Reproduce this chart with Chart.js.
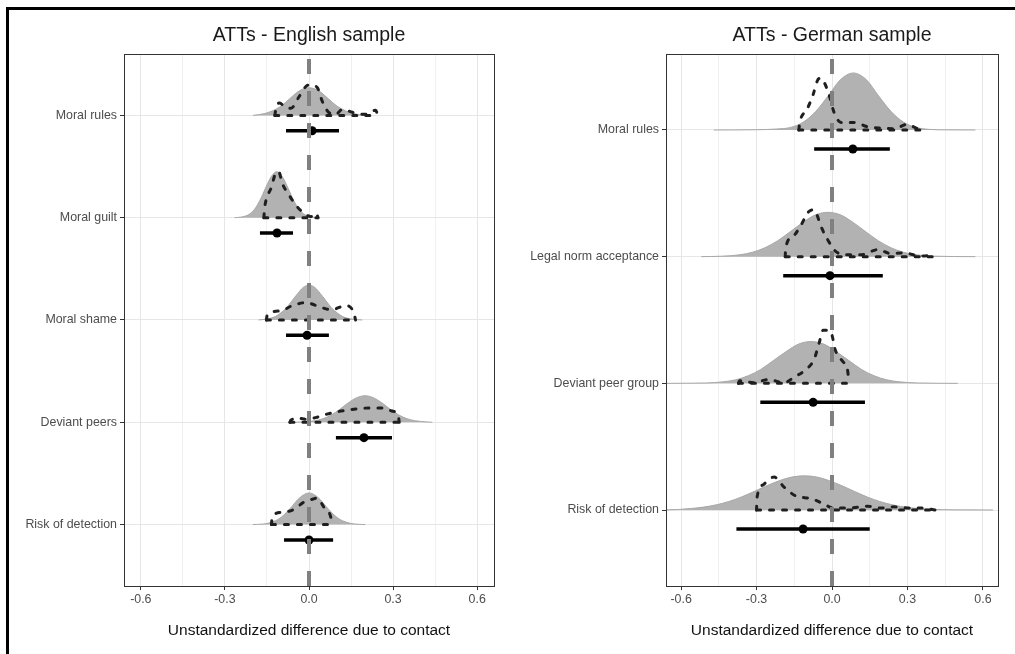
<!DOCTYPE html>
<html>
<head>
<meta charset="utf-8">
<script src="https://cdn.jsdelivr.net/npm/chart.js@4.4.1/dist/chart.umd.min.js"></script>
<style>
  body { margin: 0; width: 1015px; height: 654px; overflow: hidden; background: #fff; position: relative; }
  #frame { position: absolute; left: 6px; top: 7px; width: 1100px; height: 1100px; border: 3px solid #000; }
  canvas { position: absolute; top: 0; }
  #en { left: 0; }
  #de { left: 505px; }
</style>
</head>
<body>
<div id="frame"></div>
<canvas id="en" width="505" height="654"></canvas>
<canvas id="de" width="510" height="654"></canvas>
<script>
// x axis (shared)
const xTicks = [-0.6, -0.45, -0.3, -0.15, 0, 0.15, 0.3, 0.45, 0.6];
const xTickLabels = ['-0.6', '', '-0.3', '', '0.0', '', '0.3', '', '0.6'];

// English sample
const enCategories = ['Moral rules', 'Moral guilt', 'Moral shame', 'Deviant peers', 'Risk of detection'];
const enEstimate = [0.011, -0.114, -0.007, 0.196, 0.0];
const enLower = [-0.082, -0.175, -0.082, 0.096, -0.089];
const enUpper = [0.107, -0.057, 0.071, 0.296, 0.086];

// [x, height] pairs, height in units of row spacing
const enRulesGray = [[-0.2,0],[-0.16,0.017],[-0.13,0.045],[-0.1,0.09],[-0.07,0.16],[-0.04,0.23],[-0.02,0.26],[0,0.27],[0.02,0.26],[0.04,0.23],[0.07,0.16],[0.1,0.09],[0.13,0.045],[0.16,0.017],[0.2,0]];
const enGuiltGray = [[-0.265,0],[-0.245,0.005],[-0.215,0.03],[-0.195,0.08],[-0.175,0.17],[-0.155,0.29],[-0.135,0.4],[-0.115,0.45],[-0.095,0.4],[-0.075,0.29],[-0.055,0.17],[-0.035,0.08],[-0.015,0.03],[0.015,0.005],[0.035,0]];
const enShameGray = [[-0.18,0],[-0.15,0.01],[-0.12,0.034],[-0.1,0.07],[-0.08,0.12],[-0.06,0.19],[-0.04,0.26],[-0.02,0.32],[0,0.34],[0.02,0.32],[0.04,0.26],[0.06,0.19],[0.08,0.12],[0.1,0.07],[0.12,0.034],[0.15,0.01],[0.19,0]];
const enPeersGray = [[-0.05,0],[-0.02,0.004],[0.02,0.015],[0.05,0.035],[0.08,0.072],[0.11,0.127],[0.14,0.19],[0.17,0.24],[0.2,0.26],[0.23,0.24],[0.26,0.19],[0.29,0.127],[0.32,0.072],[0.35,0.035],[0.38,0.015],[0.42,0.004],[0.44,0]];
const enRiskGray = [[-0.2,0],[-0.15,0.011],[-0.12,0.037],[-0.1,0.07],[-0.08,0.12],[-0.06,0.18],[-0.04,0.245],[-0.02,0.29],[0,0.31],[0.02,0.29],[0.04,0.245],[0.06,0.18],[0.08,0.12],[0.1,0.07],[0.12,0.037],[0.15,0.011],[0.2,0]];

const enRulesDash = [[-0.122,0],[-0.115,0.1],[-0.105,0.12],[-0.085,0.08],[-0.064,0.07],[-0.036,0.18],[-0.012,0.28],[0.005,0.3],[0.03,0.27],[0.047,0.14],[0.07,0.03],[0.095,0.01],[0.12,0.06],[0.155,0.03],[0.2,0.01],[0.238,0.05],[0.245,0]];
const enGuiltDash = [[-0.161,0],[-0.158,0.1],[-0.15,0.2],[-0.135,0.29],[-0.118,0.44],[-0.108,0.45],[-0.096,0.34],[-0.071,0.22],[-0.043,0.11],[-0.011,0.03],[0.007,0.01],[0.022,0.045],[0.03,0.02],[0.032,0]];
const enShameDash = [[-0.152,0],[-0.149,0.05],[-0.1,0.09],[-0.06,0.14],[-0.01,0.17],[0.036,0.13],[0.08,0.1],[0.13,0.14],[0.16,0.07],[0.166,0]];
const enPeersDash = [[-0.068,0],[-0.065,0.02],[-0.036,0.04],[-0.011,0.03],[0.029,0.05],[0.064,0.08],[0.114,0.11],[0.167,0.13],[0.214,0.14],[0.26,0.14],[0.296,0.11],[0.318,0.07],[0.322,0]];
const enRiskDash = [[-0.134,0],[-0.131,0.08],[-0.096,0.12],[-0.053,0.15],[-0.018,0.22],[0.015,0.25],[0.029,0.26],[0.053,0.17],[0.078,0.07],[0.082,0]];

// German sample
const deCategories = ['Moral rules', 'Legal norm acceptance', 'Deviant peer group', 'Risk of detection'];
const deEstimate = [0.083, -0.008, -0.075, -0.115];
const deLower = [-0.071, -0.194, -0.285, -0.38];
const deUpper = [0.23, 0.202, 0.131, 0.15];

const deRulesGray = [[-0.47,0],[-0.3,0.002],[-0.22,0.008],[-0.165,0.02],[-0.115,0.061],[-0.065,0.146],[-0.015,0.27],[0.035,0.4],[0.085,0.45],[0.135,0.4],[0.185,0.27],[0.235,0.146],[0.285,0.061],[0.335,0.02],[0.385,0.005],[0.45,0.001],[0.57,0]];
const deLegalGray = [[-0.52,0],[-0.436,0.004],[-0.366,0.015],[-0.316,0.035],[-0.266,0.071],[-0.216,0.126],[-0.166,0.197],[-0.116,0.27],[-0.066,0.33],[-0.016,0.35],[0.034,0.33],[0.084,0.27],[0.134,0.197],[0.184,0.126],[0.234,0.071],[0.284,0.035],[0.334,0.015],[0.404,0.004],[0.57,0]];
const deDevGray = [[-0.66,0],[-0.5,0.003],[-0.433,0.012],[-0.383,0.028],[-0.333,0.06],[-0.283,0.11],[-0.233,0.18],[-0.183,0.25],[-0.133,0.31],[-0.083,0.33],[-0.033,0.31],[0.017,0.25],[0.067,0.18],[0.117,0.11],[0.167,0.06],[0.217,0.028],[0.267,0.012],[0.34,0.003],[0.5,0]];
const deRiskGray = [[-0.66,0.001],[-0.61,0.004],[-0.56,0.012],[-0.51,0.023],[-0.46,0.041],[-0.41,0.067],[-0.36,0.103],[-0.31,0.146],[-0.26,0.191],[-0.21,0.231],[-0.16,0.26],[-0.11,0.27],[-0.06,0.26],[-0.01,0.231],[0.04,0.191],[0.09,0.146],[0.14,0.103],[0.19,0.067],[0.24,0.041],[0.29,0.023],[0.34,0.012],[0.39,0.006],[0.49,0.001],[0.64,0]];

const deRulesDash = [[-0.132,0],[-0.128,0.06],[-0.1,0.16],[-0.075,0.28],[-0.058,0.39],[-0.045,0.41],[-0.032,0.38],[-0.012,0.28],[0.008,0.14],[0.036,0.06],[0.087,0.06],[0.142,0.025],[0.194,0.015],[0.246,0.01],[0.3,0.045],[0.325,0.025],[0.35,0]];
const deLegalDash = [[-0.186,0],[-0.184,0.07],[-0.155,0.16],[-0.123,0.25],[-0.095,0.35],[-0.075,0.37],[-0.06,0.33],[-0.044,0.24],[-0.016,0.13],[0.016,0.04],[0.063,0.015],[0.115,0.015],[0.182,0.055],[0.234,0.025],[0.285,0.03],[0.352,0.005],[0.404,0.01],[0.41,0]];
const deDevDash = [[-0.372,0],[-0.368,0.02],[-0.31,0.005],[-0.254,0.03],[-0.19,0.005],[-0.15,0.05],[-0.103,0.11],[-0.071,0.19],[-0.051,0.32],[-0.035,0.42],[-0.015,0.42],[0,0.38],[0.012,0.27],[0.044,0.17],[0.063,0.09],[0.066,0]];
const deRiskDash = [[-0.3,0],[-0.298,0.1],[-0.273,0.2],[-0.245,0.25],[-0.23,0.26],[-0.19,0.18],[-0.143,0.11],[-0.083,0.09],[-0.036,0.05],[0.008,0.015],[0.063,0.015],[0.142,0.03],[0.194,0.015],[0.246,0.025],[0.313,0.015],[0.364,0.015],[0.41,0]];

const FONT = "'Liberation Sans', Arial, Helvetica, sans-serif";
Chart.defaults.font.family = FONT;
const barOffset = 0.15;

// draws the panel box on all four sides
const panelBorder = {
  id: 'panelBorder',
  afterDraw(chart) {
    const a = chart.chartArea, ctx = chart.ctx;
    ctx.save();
    ctx.strokeStyle = '#333';
    ctx.lineWidth = 1;
    ctx.strokeRect(Math.round(a.left) + 0.5, Math.round(a.top) + 0.5, Math.round(a.width), Math.round(a.height));
    ctx.restore();
  }
};

function ridgePanel(id, title, categories, est, lo, hi, grays, dashes, yMin, yMax, yAxisWidth, rightPad) {
  const n = categories.length;
  const base = i => n - i;
  const dashStyle = { borderColor: '#1f1f1f', borderWidth: 3, borderDash: [4, 9], borderCapStyle: 'round', pointRadius: 0, fill: false };
  const ds = [];
  ds.push({ type: 'line', data: [{x: 0, y: yMin}, {x: 0, y: yMax}], borderColor: '#808080', borderWidth: 4, borderDash: [15, 17], pointRadius: 0, fill: false, order: 0 });
  ds.push({ type: 'scatter', data: est.map((v, i) => ({x: v, y: base(i) - barOffset})), pointRadius: 4.5, backgroundColor: '#000', borderWidth: 0, order: 1 });
  categories.forEach((c, i) => {
    ds.push({ type: 'line', data: [{x: lo[i], y: base(i) - barOffset}, {x: hi[i], y: base(i) - barOffset}], borderColor: '#000', borderWidth: 3.5, pointRadius: 0, fill: false, order: 2 });
    const d = dashes[i];
    ds.push(Object.assign({ type: 'line', data: d.map(p => ({x: p[0], y: base(i) + p[1]})), cubicInterpolationMode: 'monotone', order: 3 }, dashStyle));
    ds.push(Object.assign({ type: 'line', data: [{x: d[0][0], y: base(i)}, {x: d[d.length - 1][0], y: base(i)}], order: 3 }, dashStyle));
    ds.push({ type: 'line', data: grays[i].map(p => ({x: p[0], y: base(i) + p[1]})), cubicInterpolationMode: 'monotone', borderColor: '#a8a8a8', borderWidth: 1, backgroundColor: '#b2b2b2', fill: {value: base(i)}, pointRadius: 0, order: 4 });
  });

  new Chart(document.getElementById(id), {
    type: 'line',
    data: { datasets: ds },
    plugins: [panelBorder],
    options: {
      responsive: false,
      animation: false,
      events: [],
      layout: { padding: { left: 0, right: rightPad, top: 0, bottom: 0 } },
      plugins: {
        legend: { display: false },
        tooltip: { enabled: false },
        title: { display: true, fullSize: false, text: title, color: '#1a1a1a', font: { size: 19.5, weight: 'normal' }, padding: { top: 24, bottom: 6.6 } }
      },
      scales: {
        x: {
          type: 'linear', min: -0.66, max: 0.66,
          afterBuildTicks: s => { s.ticks = xTicks.map(v => ({value: v})); },
          afterFit: s => { s.height = 68; },
          ticks: { callback: (v, i) => xTickLabels[i], color: '#4d4d4d', font: { size: 12.4 }, padding: 2, maxRotation: 0, autoSkip: false },
          grid: {
            color: c => xTickLabels[c.index] ? '#e6e6e6' : '#f0f0f0',
            lineWidth: 1, tickLength: 4, tickWidth: 1,
            tickColor: c => xTickLabels[c.index] ? '#333' : 'rgba(0,0,0,0)'
          },
          border: { display: false },
          title: { display: true, text: 'Unstandardized difference due to contact', color: '#111', font: { size: 15.5 }, padding: { top: 4, bottom: 14 } }
        },
        y: {
          type: 'linear', min: yMin, max: yMax,
          afterBuildTicks: s => { s.ticks = categories.map((c, i) => ({value: n - i})); },
          afterFit: s => { s.width = yAxisWidth; },
          ticks: { callback: v => categories[n - Math.round(v)], color: '#4d4d4d', font: { size: 12.4 }, padding: 3, autoSkip: false },
          grid: { color: '#e6e6e6', lineWidth: 1, tickLength: 4, tickWidth: 1, tickColor: '#333' },
          border: { display: false }
        }
      }
    }
  });
}

ridgePanel('en', 'ATTs - English sample', enCategories, enEstimate, enLower, enUpper,
  [enRulesGray, enGuiltGray, enShameGray, enPeersGray, enRiskGray],
  [enRulesDash, enGuiltDash, enShameDash, enPeersDash, enRiskDash],
  0.4, 5.6, 124, 11);

ridgePanel('de', 'ATTs - German sample', deCategories, deEstimate, deLower, deUpper,
  [deRulesGray, deLegalGray, deDevGray, deRiskGray],
  [deRulesDash, deLegalDash, deDevDash, deRiskDash],
  0.4, 4.6, 161, 17);
</script>
</body>
</html>
